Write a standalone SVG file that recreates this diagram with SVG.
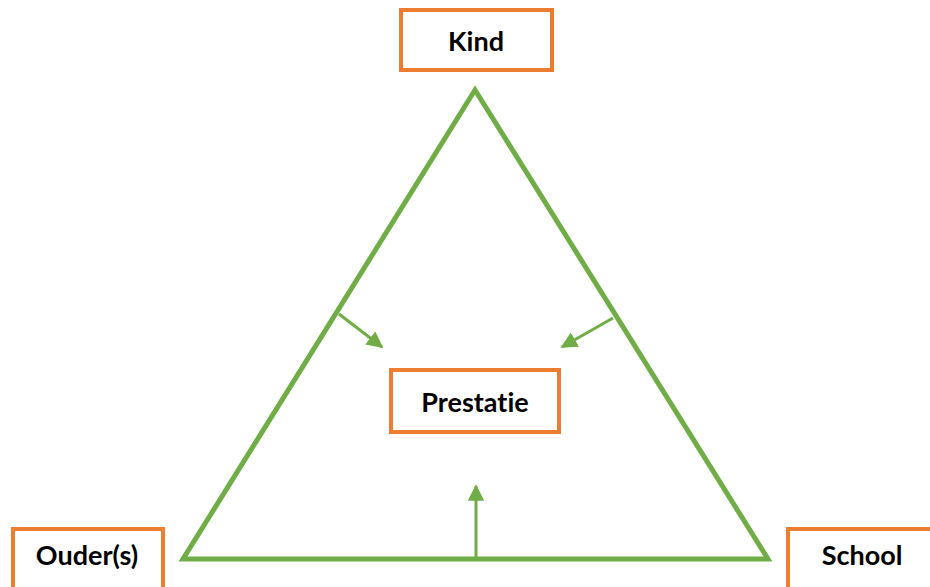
<svg xmlns="http://www.w3.org/2000/svg" width="930" height="587" viewBox="0 0 930 587">
<style>
.box{fill:#fff;stroke:#ED7D31;stroke-width:4}
.lbl{font-family:Lato,"Open Sans",sans-serif;font-weight:bold;font-size:27px;fill:#000;text-anchor:middle;font-variant-ligatures:none;font-feature-settings:"liga" 0}
.tri{fill:none;stroke:#70AD47;stroke-width:5;stroke-linejoin:miter}
.arr{stroke:#70AD47;stroke-width:3;fill:none}
</style>
<defs>
<marker id="ah" viewBox="0 0 10 10" refX="9" refY="5" markerWidth="5.5" markerHeight="5.5" orient="auto" markerUnits="strokeWidth">
<path d="M0,0 L10,5 L0,10 Z" fill="#70AD47"/>
</marker>
</defs>
<rect width="930" height="587" fill="#fff"/>
<g id="connectors">
<polygon class="tri" points="475,90 183,559 768,559"/>
<line class="arr" x1="339" y1="314" x2="382" y2="347" marker-end="url(#ah)"/>
<line class="arr" x1="613" y1="318" x2="562" y2="347" marker-end="url(#ah)"/>
<line class="arr" x1="476" y1="559" x2="476" y2="486" marker-end="url(#ah)"/>
</g>
<g id="kind">
<rect class="box" x="401" y="10" width="151" height="60"/>
<text class="lbl" x="476" y="51">Kind</text>
</g>
<g id="prestatie">
<rect class="box" x="391" y="370" width="168" height="62"/>
<text class="lbl" x="475" y="412">Prestatie</text>
</g>
<g id="ouders">
<rect class="box" x="13" y="529" width="150" height="70"/>
<text class="lbl" x="87" y="565">Ouder(s)</text>
</g>
<g id="school">
<rect class="box" x="788" y="529" width="160" height="70"/>
<text class="lbl" x="862" y="565">School</text>
</g>
</svg>
